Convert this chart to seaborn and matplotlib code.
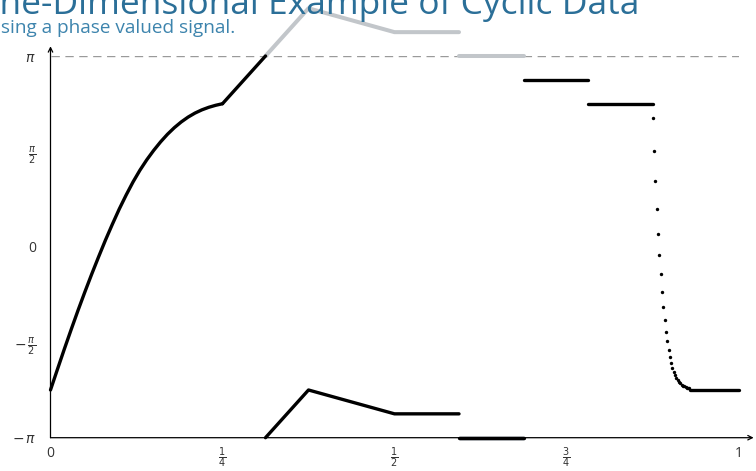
import numpy as np
import pandas as pd
import seaborn as sns
import matplotlib.pyplot as plt

PI = np.pi

# smooth rise on [0, 1/4]
rise_x = [0, 0.01, 0.02, 0.03, 0.04, 0.05, 0.06, 0.07, 0.08, 0.09, 0.10, 0.11, 0.12,
          0.13, 0.14, 0.15, 0.16, 0.17, 0.18, 0.19, 0.20, 0.21, 0.22, 0.23, 0.24, 0.25]
rise_y = [-2.356, -2.019, -1.686, -1.362, -1.046, -0.741, -0.446, -0.162, 0.114,
          0.374, 0.624, 0.854, 1.069, 1.262, 1.434, 1.588, 1.728, 1.853, 1.962,
          2.056, 2.136, 2.202, 2.255, 2.297, 2.330, 2.356]

# wrapped signal, piecewise linear parts (values in units of pi)
wrapped_segments = [
    ([0.25, 0.3125], [0.75, 1.0]),
    ([0.3125, 0.375, 0.5, 0.59375], [-1.0, -0.75, -0.875, -0.875]),
    ([0.59375, 0.6875], [-1.0, -1.0]),
    ([0.6875, 0.78125], [0.875, 0.875]),
    ([0.78125, 0.875], [0.75, 0.75]),
    ([0.929, 1.0], [-0.75, -0.75]),
]

# unwrapped values that go above pi (drawn in grey)
unwrapped_segments = [
    ([0.3125, 0.375, 0.5, 0.59375], [1.0, 1.25, 1.125, 1.125]),
    ([0.59375, 0.6875], [1.0, 1.0]),
]

# sampled points of the fast drop near x = 0.9
drop_x = [0.8755, 0.8774, 0.8793, 0.8812, 0.8831, 0.8850, 0.8869, 0.8888, 0.8907,
          0.8926, 0.8945, 0.8964, 0.8983, 0.9002, 0.9021, 0.9040, 0.9059, 0.9078,
          0.9097, 0.9116, 0.9135, 0.9154, 0.9173, 0.9192, 0.9211, 0.9230, 0.9249,
          0.9268, 0.9287]
drop_y = [2.125, 1.575, 1.076, 0.631, 0.219, -0.127, -0.451, -0.736, -0.984,
          -1.198, -1.395, -1.555, -1.696, -1.811, -1.909, -1.989, -2.056, -2.111,
          -2.156, -2.193, -2.223, -2.248, -2.268, -2.285, -2.298, -2.309, -2.318,
          -2.325, -2.331]

x_ticks = [0, 0.25, 0.5, 0.75, 1]
x_labels = ['0', r'$\frac{1}{4}$', r'$\frac{1}{2}$', r'$\frac{3}{4}$', '1']
y_ticks = [-PI, -PI / 2, 0, PI / 2, PI]
y_labels = [r'$-\,\pi$', r'$-\,\frac{\pi}{2}$', '0', r'$\frac{\pi}{2}$', r'$\pi$']


def to_frame(segments):
    rows = []
    for i, (xs, ys) in enumerate(segments):
        for x, y in zip(xs, ys):
            rows.append({'x': x, 'y': y * PI, 'seg': i})
    return pd.DataFrame(rows)


black_df = to_frame(wrapped_segments)
grey_df = to_frame(unwrapped_segments)
rise_df = pd.DataFrame({'x': rise_x, 'y': rise_y})
drop_df = pd.DataFrame({'x': drop_x, 'y': drop_y})

sns.set_style('white')
plt.rcParams['font.family'] = ['Open Sans', 'DejaVu Sans']
plt.rcParams['mathtext.fontset'] = 'dejavusans'

fig = plt.figure(figsize=(7.56, 4.71), dpi=100)
ax = fig.add_axes([50.5 / 756, 33.3 / 471, 688 / 756, 381.7 / 471])

grey = '#c2c6ca'
ax.axhline(PI, color='#9a9a9a', lw=1, dashes=(6, 4), zorder=1)

# grey halo under the -pi flat part
ax.plot([0.59375, 0.6875], [-PI, -PI], color=grey, lw=3.4, solid_capstyle='butt',
        clip_on=False, zorder=2)

sns.lineplot(data=grey_df, x='x', y='y', units='seg', estimator=None, sort=False,
             color=grey, lw=2.9, ax=ax, clip_on=False, zorder=2,
             solid_capstyle='round')
sns.lineplot(data=black_df, x='x', y='y', units='seg', estimator=None, sort=False,
             color='black', lw=2.4, ax=ax, clip_on=False, zorder=3,
             solid_capstyle='round')
sns.lineplot(data=rise_df, x='x', y='y', estimator=None, sort=False,
             color='black', lw=2.4, ax=ax, clip_on=False, zorder=3,
             solid_capstyle='round')
sns.scatterplot(data=drop_df, x='x', y='y', color='black', s=6, linewidth=0,
                ax=ax, clip_on=False, zorder=3)

ax.set_xlim(0, 1)
ax.set_ylim(-PI, PI)
for s in ax.spines.values():
    s.set_visible(False)

# axis lines with arrow heads
arrow = dict(arrowstyle='->', color='black', lw=0.9, shrinkA=0, shrinkB=0,
             mutation_scale=8)
ax.annotate('', xy=(0, PI + 0.16), xytext=(0, -PI), xycoords='data',
            arrowprops=arrow, annotation_clip=False)
ax.annotate('', xy=(1.022, -PI), xytext=(0, -PI), xycoords='data',
            arrowprops=arrow, annotation_clip=False)

ax.set_xticks(x_ticks)
ax.set_xticklabels(x_labels)
ax.set_yticks(y_ticks)
ax.set_yticklabels(y_labels)
ax.tick_params(direction='inout', length=8, width=0.8, color='black',
               labelsize=10, labelcolor='#333333')
ax.tick_params(axis='x', pad=2)
ax.tick_params(axis='y', pad=6.5)
ax.set_xlabel('')
ax.set_ylabel('')

fig.text(-28 / 756, 1 - 14 / 471, 'One-Dimensional Example of Cyclic Data',
         fontsize=25.5, color='#2b6f98', va='baseline', ha='left')
fig.text(-13 / 756, 1 - 33 / 471, 'Using a phase valued signal.',
         fontsize=13.7, color='#3d84ad', va='baseline', ha='left')

fig.savefig('out.png', dpi=100)
